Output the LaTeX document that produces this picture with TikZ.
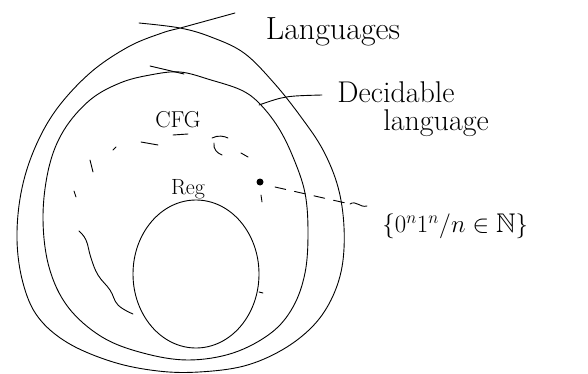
\documentclass[tikz,border=0pt]{standalone}
\usepackage{amssymb}
\usetikzlibrary{positioning}
\begin{document}
\begin{tikzpicture}[x=1pt, y=-1pt, line width=0.9pt,
  sketch/.style={draw=black, line join=round, line cap=round},
  lbl/.style={inner sep=0pt, font=\fontsize{30}{32}\selectfont}]
  \useasboundingbox (0,0) rectangle (588,374);
  % all languages
  \draw[sketch] plot[smooth, tension=0.6] coordinates {(139,23) (180,28) (211,37) (244,53) (274,83) (301,117) (323,150) (338,187) (344,227) (342,267) (331,300) (312,327) (282,350) (244,366) (199,372) (158,371) (113,362) (68,343) (38,317) (23,283) (17,240) (21,193) (34,150) (56,110) (90,73) (128,47) (162,33) (184,27) (235,13)};
  % decidable
  \draw[sketch] plot[smooth cycle, tension=0.6] coordinates {(180,72) (211,80) (241,90) (259,103) (278,127) (293,157) (305,193) (308,233) (305,273) (293,307) (271,333) (233,353) (188,360) (143,353) (102,337) (68,307) (49,267) (43,217) (49,167) (64,130) (90,100) (120,83) (150,75)};
  \draw[sketch] (150,66) -- (184,74);
  \coordinate (dec) at (259,105);
  % context free
  \draw[sketch] plot[smooth, tension=0.7] coordinates {(79,231) (86,240) (91,258) (98,275) (110,290) (118,305) (133,314)};
  \draw[sketch] (74,191) -- (76,197);
  \draw[sketch] (90,160) -- (93,172);
  \draw[sketch] (113,150) -- (116,147);
  \draw[sketch] (141,142) -- (158,145);
  \draw[sketch] (173,135) -- (188,134);
  \draw[sketch] (212,138) .. controls (218,135) and (224,136) .. (228,138);
  \draw[sketch] (214,143) .. controls (213,149) and (217,153) .. (222,155);
  \draw[sketch] (241,153) -- (248,157);
  \draw[sketch] (261,195) -- (262,202);
  \draw[sketch] (259,292) -- (263,293);
  % regular
  \draw[sketch] (196,274) ellipse [x radius=63, y radius=74];
  % labels
  \node[lbl, font=\fontsize{23}{24}\selectfont] (cfg) at (178,120) {CFG};
  \node[lbl, font=\fontsize{22}{24}\selectfont] (reg) at (188,189) {Reg};
  \node[lbl, font=\fontsize{32}{34}\selectfont] (lang) at (333,32) {Languages};
  \node[lbl, anchor=west] (decl) at (337,92) {Decidable};
  \node[lbl, below=6pt of decl, xshift=40pt] (decl2) {language};
  \node[lbl, font=\fontsize{27}{29}\selectfont, anchor=west] (anbn) at (382,226) {$\{0^n1^n/n\in\mathbb{N}\}$};
  \node[circle, fill, inner sep=0pt, minimum size=7pt] (pt) at (260,182) {};
  \coordinate (tl) at (350,204);
  % leaders
  \draw[sketch] (dec) .. controls (285,96) .. (322,95);
  \draw[sketch, dash pattern=on 11pt off 9pt] ([shift={(15,5)}]pt.center) -- (tl);
  \draw[sketch] (tl) .. controls (356,200) and (360,208) .. (367,206);
\end{tikzpicture}
\end{document}
